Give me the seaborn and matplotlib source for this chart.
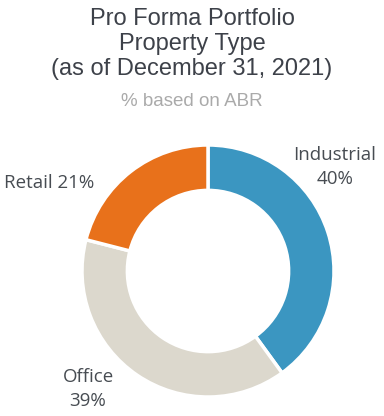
import matplotlib
matplotlib.use("Agg")
import matplotlib.pyplot as plt
import seaborn as sns

# data
categories = ["Industrial", "Office", "Retail"]
shares = [40, 39, 21]
colors = ["#3b96c1", "#dcd8cd", "#e8711b"]

sns.set_theme(style="white")
plt.rcParams["font.family"] = ["Liberation Sans", "DejaVu Sans"]

fig = plt.figure(figsize=(3.84, 4.16), dpi=100)
fig.patch.set_facecolor("white")

# titles
fig.text(0.5, 1 - 44 / 416, "Pro Forma Portfolio\nProperty Type\n(as of December 31, 2021)",
         ha="center", va="center", fontsize=17, color="#3d4149", linespacing=1.2)
fig.text(0.5, 1 - 101 / 416, "% based on ABR", ha="center", va="center",
         fontsize=13.5, color="#aaaaaa")

# donut
ax = fig.add_axes([(208 - 126) / 384, (416 - 397) / 416, 252 / 384, 252 / 416])
wedges, _ = ax.pie(shares, colors=colors, startangle=90, counterclock=False,
                   radius=1, wedgeprops=dict(width=0.36, edgecolor="white", linewidth=2.5))
ax.set_xlim(-1, 1)
ax.set_ylim(-1, 1)
ax.set_aspect("equal")
ax.axis("off")

lab = dict(ha="center", va="center", fontsize=13.5, color="#474c52",
           family=["Open Sans", "DejaVu Sans"], linespacing=1.4)
fig.text(335 / 384, 1 - 167 / 416, "Industrial\n40%", **lab)
fig.text(49 / 384, 1 - 183 / 416, "Retail 21%", **lab)
fig.text(88 / 384, 1 - 389 / 416, "Office\n39%", **lab)

fig.savefig("out.png", dpi=100, facecolor="white")
